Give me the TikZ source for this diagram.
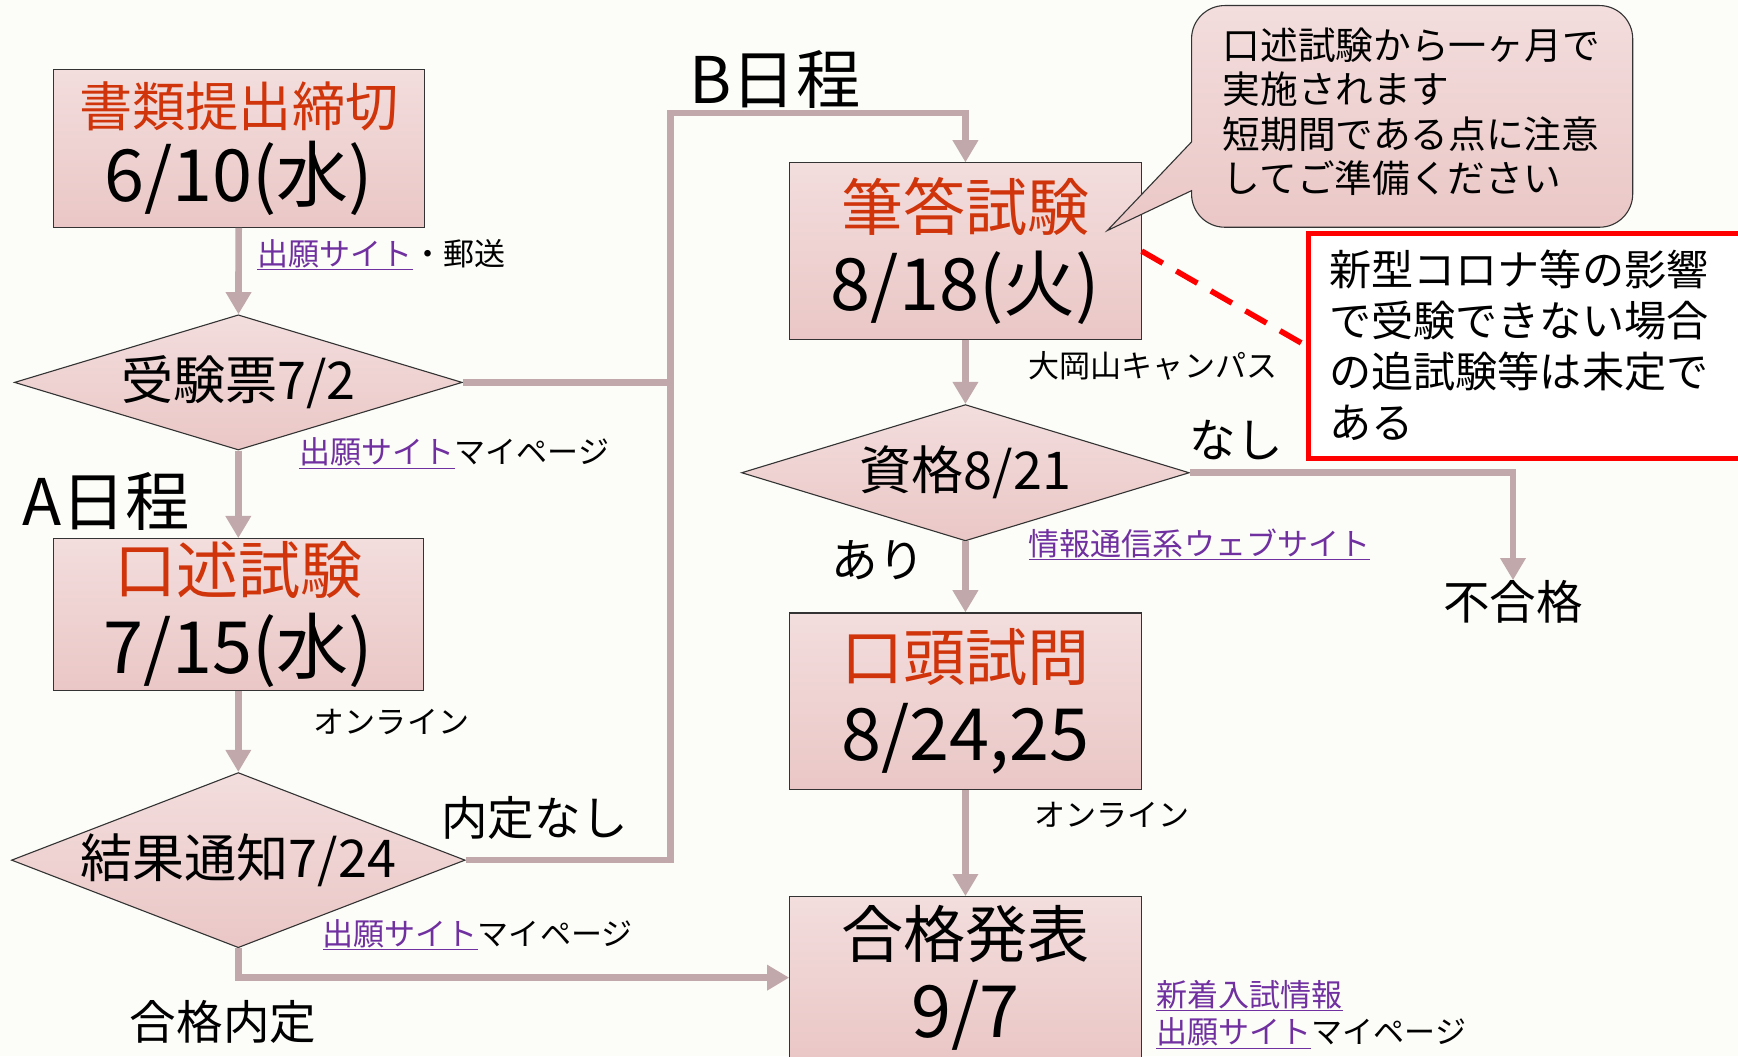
\documentclass[tikz,border=0pt]{standalone}
\usepackage{fontspec}
\setmainfont{Noto Sans CJK JP}
\usepackage{tikz}
\usetikzlibrary{arrows.meta,shapes.geometric,positioning}
\definecolor{Paper}{RGB}{252,253,248}
\definecolor{BoxTop}{RGB}{243,221,221}
\definecolor{BoxBottom}{RGB}{234,199,198}
\definecolor{Title}{RGB}{207,52,10}
\definecolor{Link}{RGB}{112,48,160}
\definecolor{Flow}{RGB}{193,168,170}
\definecolor{Alert}{RGB}{255,0,0}
\newcommand{\lnk}[1]{\textcolor{Link}{\underline{#1}}}

\begin{document}
\begin{tikzpicture}[
    x=1pt, y=-1pt,
    stage/.style={draw=black!80, line width=1pt, top color=BoxTop, bottom color=BoxBottom,
      rectangle, minimum width=317pt, minimum height=159pt, inner sep=0pt, align=center,
      font={\fontsize{65}{72}\selectfont}},
    check/.style={draw=black!80, line width=1pt, top color=BoxTop, bottom color=BoxBottom,
      diamond, aspect=3.2, inner sep=0pt, font={\fontsize{47}{52}\selectfont}},
    rail/.style={draw=Flow, line width=6pt},
    flow/.style={rail, -{Triangle[length=20pt,width=22pt]}},
    small/.style={anchor=west, inner sep=0pt, align=left, font={\fontsize{28}{34}\selectfont}},
    medium/.style={inner sep=0pt, font={\fontsize{42}{48}\selectfont}},
    route/.style={anchor=west, inner sep=0pt, font={\fontsize{58}{64}\selectfont}},
    alertbox/.style={draw=Alert, line width=4.5pt, fill=white, anchor=north west,
      minimum height=203pt, text width=380pt, inner xsep=19pt, align=left,
      font={\fontsize{38}{46}\selectfont}},
    alertline/.style={draw=Alert, line width=5pt, dash pattern=on 22pt off 14pt},
    balloon/.style={draw=black!80, line width=1pt, top color=BoxTop, bottom color=BoxBottom}
  ]

  \useasboundingbox (0,0) rectangle (1568,953);
  \clip (0,0) rectangle (1568,953);
  \fill[Paper] (0,0) rectangle (1568,953);

  \node[stage, minimum width=335pt, minimum height=142pt, font={\fontsize{65}{68}\selectfont}]
    (apply) at (215.5,134) {\textcolor{Title}{\fontsize{48}{68}\selectfont 書類提出締切}\\6/10(水)};
  \node[check, minimum width=404pt, minimum height=122pt, aspect=3.3] (ticket) at (215,345) {受験票7/2};
  \node[stage, minimum width=334pt, minimum height=137pt] (oral) at (215,554.5)
    {\textcolor{Title}{\fontsize{56}{72}\selectfont 口述試験}\\7/15(水)};
  \node[check, minimum width=408pt, minimum height=158pt, aspect=2.6] (result) at (215,776) {結果通知7/24};

  \node[stage] (written) at (871,226.5)
    {\textcolor{Title}{\fontsize{56}{72}\selectfont 筆答試験}\\8/18(火)};
  \node[check, minimum width=404pt, minimum height=123pt, aspect=3.3] (qualify) at (871,426.5) {資格8/21};
  \node[stage] (interview) at (871,632.5)
    {\textcolor{Title}{\fontsize{56}{72}\selectfont 口頭試問}\\8/24,25};
  \node[stage, minimum height=146pt] (announce) at (871,882)
    {{\fontsize{56}{72}\selectfont 合格発表}\\9/7};

  \node[medium] (fail) at (1365,543) {不合格};
  \coordinate (bturn) at (605,102);

  \draw[flow] (apply) -- (ticket);
  \draw[flow] (ticket) -- (oral);
  \draw[flow] (oral) -- (result);
  \draw[rail] (ticket.east) -- (ticket.east -| bturn);
  \draw[flow] (result.east) -| (bturn) -| (written.north);
  \draw[flow] (result.south) |- (announce.west);
  \draw[flow] (written) -- (qualify);
  \draw[flow] (qualify.east) -| (fail.north);
  \draw[flow] (qualify) -- (interview);
  \draw[flow] (interview) -- (announce);

  \node[small] (l1) at (232,230) {\lnk{出願サイト}・郵送};
  \node[small] (l2) at (270,409) {\lnk{出願サイト}マイページ};
  \node[small] (l3) at (283,651) {オンライン};
  \node[small] (l4) at (291,843) {\lnk{出願サイト}マイページ};
  \node[small] (l5) at (928,330) {大岡山キャンパス};
  \node[small] (l6) at (928,491) {\lnk{情報通信系ウェブサイト}};
  \node[small] (l7) at (933,735) {オンライン};
  \node[small, anchor=north west] (l8) at (1043,884) {\lnk{新着入試情報}\\\lnk{出願サイト}マイページ};

  \node[medium, anchor=west] (nooffer) at (398,738) {内定なし};
  \node[medium, anchor=west] (offer) at (117,922) {合格内定};
  \node[medium, anchor=west] (none) at (1073,397) {なし};
  \node[medium, anchor=west] (ok) at (750,505) {あり};
  \node[route] (routea) at (20,452) {A日程};
  \node[route] (routeb) at (622,72) {B日程};

  \draw[balloon] (1075,128) -- (999,208) -- (1075,172) [rounded corners=30pt] -- (1075,205)
    -- (1473,205) -- (1473,5) -- (1075,5) [sharp corners] -- (1075,128) -- cycle;
  \node[small, anchor=north west, font={\fontsize{34}{40}\selectfont}] (memo) at (1103,25)
    {口述試験から一ヶ月で\\実施されます\\短期間である点に注意\\してご準備ください};

  \node[alertbox] (covid) at (1178,208)
    {新型コロナ等の影響\\で受験できない場合\\の追試験等は未定で\\ある};
  \draw[alertline] (written.east) -- (covid.west);
\end{tikzpicture}
\end{document}
